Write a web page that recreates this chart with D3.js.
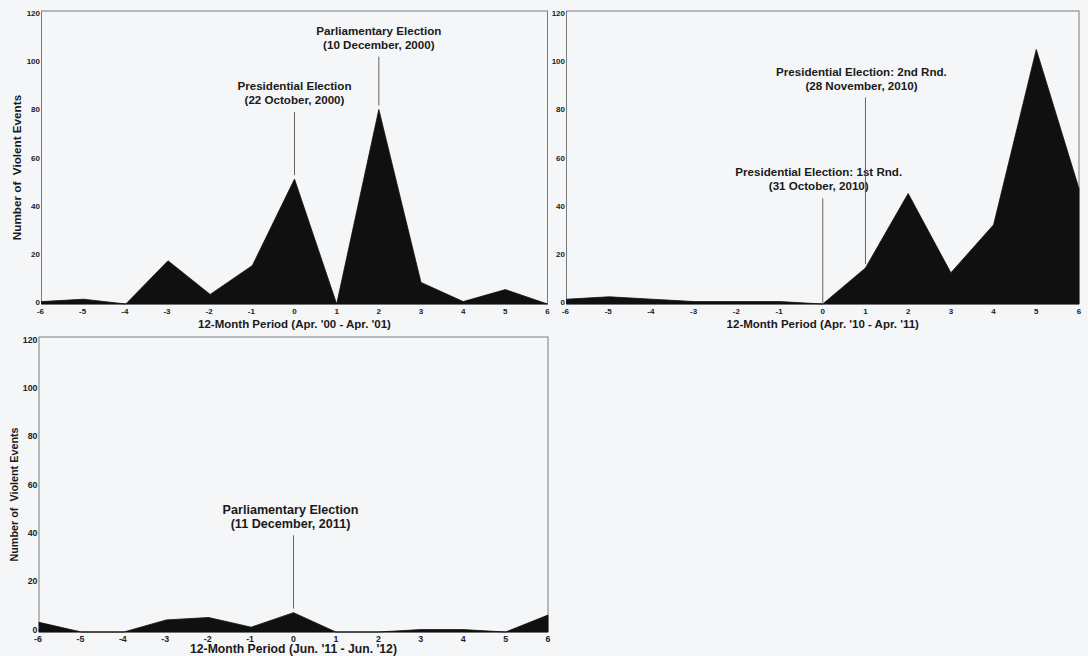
<!DOCTYPE html>
<html>
<head>
<meta charset="utf-8">
<script src="https://cdn.jsdelivr.net/npm/d3@7"></script>
<style>
  html, body { margin: 0; padding: 0; background: #f5f6f8; }
  svg { display: block; font-family: "Liberation Sans", Arial, sans-serif; font-weight: bold; }
</style>
</head>
<body>
<svg id="chart" width="1088" height="656"></svg>
<script>
// Months relative to the election month
const months = [-6, -5, -4, -3, -2, -1, 0, 1, 2, 3, 4, 5, 6];
const countTicks = [0, 20, 40, 60, 80, 100, 120];

// Number of violent events per month
const events2000 = [1, 2, 0, 18, 4, 16, 52, 0, 81, 9, 1, 6, 0];
const events2010 = [2, 3, 2, 1, 1, 1, 0, 15, 46, 13, 33, 106, 48];
const events2011 = [4, 0, 0, 5, 6, 2, 8, 0, 0, 1, 1, 0, 7];

const periodTitles = [
  "12-Month Period (Apr. '00 - Apr. '01)",
  "12-Month Period (Apr. '10 - Apr. '11)",
  "12-Month Period (Jun. '11 - Jun. '12)"
];
const countTitle = "Number of  Violent Events";

// Election markers: month, height the marker line reaches (in events), label lines
const elections2000 = [
  { month: 0, reach: 80, lines: ["Presidential Election", "(22 October, 2000)"] },
  { month: 2, reach: 103, lines: ["Parliamentary Election", "(10 December, 2000)"] }
];
const elections2010 = [
  { month: 0, reach: 44, lines: ["Presidential Election: 1st Rnd.", "(31 October, 2010)"] },
  { month: 1, reach: 86, lines: ["Presidential Election: 2nd Rnd.", "(28 November, 2010)"] }
];
const elections2011 = [
  { month: 0, reach: 40, lines: ["Parliamentary Election", "(11 December, 2011)"] }
];

// Panel frames and type sizes
const panels = [
  { values: events2000, marks: elections2000, title: periodTitles[0], yTitle: true,
    left: 41.5, right: 547.5, top: 11, bottom: 304, tick: 8, label: 11.6, axis: 11.5, titleGap: 21, dx: 0 },
  { values: events2010, marks: elections2010, title: periodTitles[1], yTitle: false,
    left: 566.5, right: 1079, top: 11, bottom: 304, tick: 8, label: 11.6, axis: 11.5, titleGap: 21, dx: -4 },
  { values: events2011, marks: elections2011, title: periodTitles[2], yTitle: true,
    left: 39, right: 548, top: 337, bottom: 632, tick: 8.8, label: 12.6, axis: 12.2, titleGap: 18, dx: -3 }
];

const svg = d3.select("#chart");
svg.append("rect").attr("width", 1088).attr("height", 656).attr("fill", "#f5f6f8");

panels.forEach(p => {
  const g = svg.append("g");
  const x = d3.scaleLinear().domain([-6, 6]).range([p.left, p.right]);
  const y = d3.scaleLinear().domain([0, 122]).range([p.bottom, p.top]);

  // frame
  g.append("rect")
    .attr("x", p.left).attr("y", p.top)
    .attr("width", p.right - p.left).attr("height", p.bottom - p.top)
    .attr("fill", "none").attr("stroke", "#7a7a7a").attr("stroke-width", 1);

  // filled event counts
  const area = d3.area()
    .x((d, i) => x(months[i]))
    .y0(y(0))
    .y1(d => y(d));
  g.append("path")
    .datum(p.values)
    .attr("d", area)
    .attr("fill", "#101010")
    .attr("stroke", "#101010")
    .attr("stroke-width", 0.8);

  // y tick labels
  g.selectAll(".ytick").data(countTicks).enter().append("text")
    .attr("x", p.left - 1.5)
    .attr("y", d => y(d) - 1.5)
    .attr("text-anchor", "end")
    .attr("dominant-baseline", "middle")
    .attr("font-size", p.tick)
    .attr("fill", "#222")
    .text(d => d);

  // x tick labels
  g.selectAll(".xtick").data(months).enter().append("text")
    .attr("x", d => x(d) + (d < 0 ? -1 : 0))
    .attr("y", p.bottom + 8)
    .attr("text-anchor", "middle")
    .attr("dominant-baseline", "middle")
    .attr("font-size", p.tick)
    .attr("fill", "#222")
    .text(d => d);

  // x axis title
  g.append("text")
    .attr("x", (p.left + p.right) / 2)
    .attr("y", p.bottom + p.titleGap)
    .attr("text-anchor", "middle")
    .attr("dominant-baseline", "middle")
    .attr("font-size", p.axis)
    .attr("fill", "#1a1a1a")
    .text(p.title);

  // y axis title
  if (p.yTitle) {
    const cy = (p.top + p.bottom) / 2 + 10;
    const cx = p.left - 23.5;
    g.append("text")
      .attr("transform", `translate(${cx},${cy}) rotate(-90)`)
      .attr("text-anchor", "middle")
      .attr("dominant-baseline", "middle")
      .attr("font-size", p.top > 100 ? 10.8 : 11.7)
      .attr("fill", "#1a1a1a")
      .attr("xml:space", "preserve")
      .style("white-space", "pre")
      .text(countTitle);
  }

  // election markers
  p.marks.forEach(m => {
    const idx = months.indexOf(m.month);
    const xm = x(m.month);
    const yTop = y(m.reach);
    const yEnd = p.values[idx] === 0 ? y(0) : y(p.values[idx]) - 4;
    g.append("line")
      .attr("x1", xm).attr("x2", xm)
      .attr("y1", yTop).attr("y2", yEnd)
      .attr("stroke", "#555").attr("stroke-width", 0.9);
    g.selectAll(null).data(m.lines).enter().append("text")
      .attr("x", xm + p.dx)
      .attr("y", (d, i) => yTop - 25 + i * 14)
      .attr("text-anchor", "middle")
      .attr("dominant-baseline", "middle")
      .attr("font-size", p.label)
      .attr("fill", "#1a1a1a")
      .text(d => d);
  });
});
</script>
</body>
</html>
